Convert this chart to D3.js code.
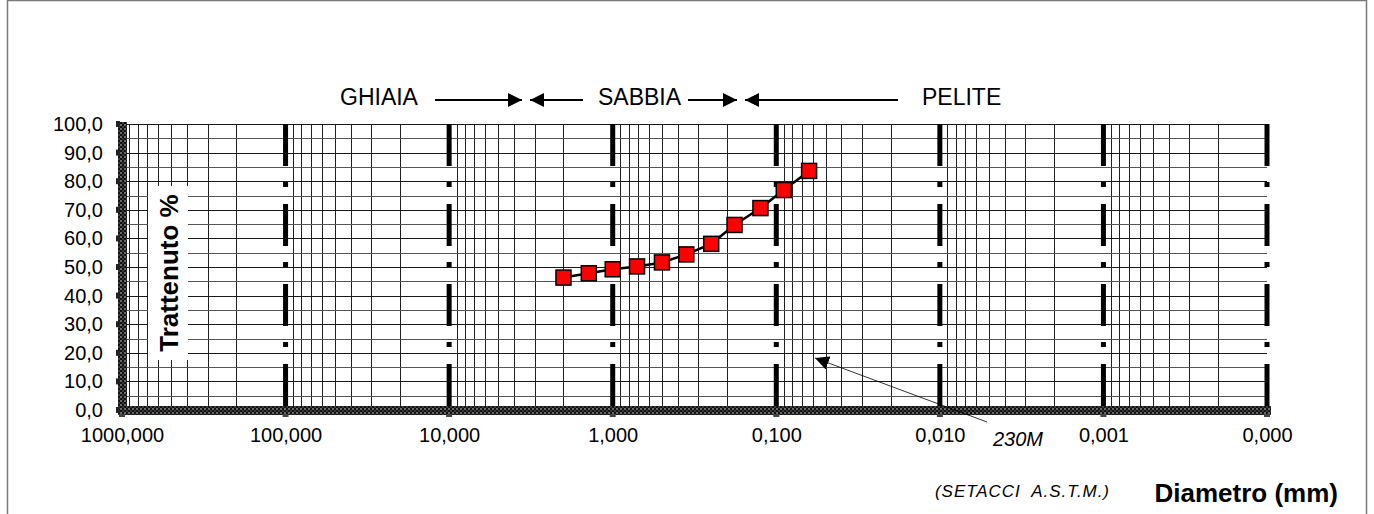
<!DOCTYPE html>
<html>
<head>
<meta charset="utf-8">
<script src="https://cdn.jsdelivr.net/npm/d3@7"></script>
<style>
    body { margin: 0; background: #fff; }
    svg { display: block; font-family: "Liberation Sans", Arial, sans-serif; }
</style>
</head>
<body>
<svg id="chart" width="1374" height="514"></svg>
<script>
// Sieve openings (mm) - ASTM series
const diameters = [2.0, 1.4, 1.0, 0.71, 0.5, 0.355, 0.25, 0.18, 0.125, 0.09, 0.063];
// Retained %
const retained = [46.3, 47.8, 49.2, 50.2, 51.6, 54.4, 58.1, 64.7, 70.6, 76.9, 83.6];

// Axis ticks
const xDecades = [1000, 100, 10, 1, 0.1, 0.01, 0.001, 0.0001];
const xTickLabels = ['1000,000', '100,000', '10,000', '1,000', '0,100', '0,010', '0,001', '0,000'];
const yTicks = [0, 10, 20, 30, 40, 50, 60, 70, 80, 90, 100];
const yTickLabels = ['0,0', '10,0', '20,0', '30,0', '40,0', '50,0', '60,0', '70,0', '80,0', '90,0', '100,0'];
const yGrid = d3.range(0, 101, 5);

const svg = d3.select('#chart');

// Scales
const x = d3.scaleLog().domain([1000, 0.0001]).range([122, 1267]);
const y = d3.scaleLinear().domain([0, 100]).range([410, 124]);

// Outer frame
svg.append('rect')
    .attr('x', 7.5).attr('y', 0.5)
    .attr('width', 1359).attr('height', 600)
    .attr('fill', 'none')
    .attr('stroke', '#7a7a7a')
    .attr('stroke-width', 1.5);

// Checkered pattern for the axes
const defs = svg.append('defs');
const pat = defs.append('pattern')
    .attr('id', 'checker')
    .attr('width', 4).attr('height', 4)
    .attr('patternUnits', 'userSpaceOnUse');
pat.append('rect').attr('width', 4).attr('height', 4).attr('fill', '#111');
pat.append('rect').attr('x', 0).attr('y', 0).attr('width', 2).attr('height', 2).attr('fill', '#6a6a6a');
pat.append('rect').attr('x', 2).attr('y', 2).attr('width', 2).attr('height', 2).attr('fill', '#3a3a3a');

// Minor vertical grid (log)
const minorTicks = [];
xDecades.slice(0, -1).forEach(d => {
    for (let k = 2; k <= 9; k++) minorTicks.push(d * k / 10);
});

const grid = svg.append('g').attr('shape-rendering', 'crispEdges');

grid.selectAll('.vgrid')
    .data(minorTicks)
    .enter()
    .append('line')
    .attr('x1', d => Math.round(x(d)) + 0.5)
    .attr('x2', d => Math.round(x(d)) + 0.5)
    .attr('y1', y(100))
    .attr('y2', y(0))
    .attr('stroke', '#202020')
    .attr('stroke-width', 1);

// Horizontal grid every 5 %
grid.selectAll('.hgrid')
    .data(yGrid)
    .enter()
    .append('line')
    .attr('x1', x(1000))
    .attr('x2', x(0.0001))
    .attr('y1', d => Math.round(y(d)) + 0.5)
    .attr('y2', d => Math.round(y(d)) + 0.5)
    .attr('stroke', d => d % 10 === 0 ? '#1a1a1a' : '#555')
    .attr('stroke-width', 1);

// Decade lines (dash-dot, thick)
svg.append('g')
    .selectAll('line')
    .data(xDecades.slice(1))
    .enter()
    .append('line')
    .attr('x1', d => x(d))
    .attr('x2', d => x(d))
    .attr('y1', y(100))
    .attr('y2', y(0))
    .attr('stroke', '#000')
    .attr('stroke-width', 5)
    .attr('stroke-dasharray', '42,16,5,17');

// Axes bands
svg.append('rect')
    .attr('x', x(1000) - 4).attr('y', y(0) - 4)
    .attr('width', x(0.0001) - x(1000) + 8).attr('height', 9)
    .attr('fill', 'url(#checker)');
svg.append('rect')
    .attr('x', x(1000) - 4).attr('y', y(100) - 2)
    .attr('width', 9).attr('height', y(0) - y(100) + 6)
    .attr('fill', 'url(#checker)');

// small tick bumps on the axes
svg.append('g')
    .selectAll('rect')
    .data(yTicks)
    .enter()
    .append('rect')
    .attr('x', x(1000) - 6)
    .attr('y', d => y(d) - 3)
    .attr('width', 4)
    .attr('height', 6)
    .attr('fill', '#222');
svg.append('g')
    .selectAll('rect')
    .data(xDecades)
    .enter()
    .append('rect')
    .attr('x', d => x(d) - 3)
    .attr('y', y(0) + 4)
    .attr('width', 6)
    .attr('height', 3)
    .attr('fill', '#444');

// Y axis labels
const yAxis = svg.append('g')
    .attr('transform', `translate(${x(1000)},0)`)
    .call(d3.axisLeft(y)
        .tickValues(yTicks)
        .tickFormat((d, i) => yTickLabels[i])
        .tickSize(0)
        .tickPadding(19));
yAxis.select('.domain').remove();
yAxis.selectAll('text')
    .attr('font-family', '"Liberation Sans", Arial, sans-serif')
    .attr('font-size', 20)
    .attr('fill', '#000');

// X axis labels
const xAxis = svg.append('g')
    .attr('transform', `translate(0,${y(0)})`)
    .call(d3.axisBottom(x)
        .tickValues(xDecades)
        .tickFormat((d, i) => xTickLabels[i])
        .tickSize(0));
xAxis.select('.domain').remove();
xAxis.selectAll('text')
    .attr('y', 32)
    .attr('dy', 0)
    .attr('font-family', '"Liberation Sans", Arial, sans-serif')
    .attr('font-size', 20)
    .attr('fill', '#000');

// Y axis title with white box
svg.append('rect')
    .attr('x', 148).attr('y', 186)
    .attr('width', 40).attr('height', 174)
    .attr('fill', '#fff');
svg.append('text')
    .attr('transform', 'translate(178,273) rotate(-90)')
    .attr('text-anchor', 'middle')
    .attr('font-weight', 'bold')
    .attr('font-size', 26)
    .text('Trattenuto %');

// Data line + markers
const pts = diameters.map((d, i) => [x(d), y(retained[i])]);
svg.append('path')
    .attr('d', d3.line()(pts))
    .attr('fill', 'none')
    .attr('stroke', '#000')
    .attr('stroke-width', 2.5);

const mk = 15;
svg.append('g')
    .selectAll('rect')
    .data(pts)
    .enter()
    .append('rect')
    .attr('x', d => d[0] - mk / 2)
    .attr('y', d => d[1] - mk / 2)
    .attr('width', mk)
    .attr('height', mk)
    .attr('fill', '#ff0000')
    .attr('stroke', '#000')
    .attr('stroke-width', 1.5);

// Arrow marker
defs.append('marker')
    .attr('id', 'head')
    .attr('viewBox', '0 0 10 10')
    .attr('refX', 10).attr('refY', 5)
    .attr('markerWidth', 14).attr('markerHeight', 14)
    .attr('markerUnits', 'userSpaceOnUse')
    .attr('orient', 'auto')
    .append('path')
    .attr('d', 'M0,0 L10,5 L0,10 Z')
    .attr('fill', '#000');

// Top labels: GHIAIA / SABBIA / PELITE
const zoneLabels = svg.append('g').attr('font-size', 23).attr('fill', '#000');
zoneLabels.append('text').attr('x', 340).attr('y', 105).text('GHIAIA');
zoneLabels.append('text').attr('x', 598).attr('y', 105).text('SABBIA');
zoneLabels.append('text').attr('x', 922).attr('y', 105).text('PELITE');

const arrows = [
    [435, 522], [583, 530], [688, 737], [898, 745]
];
svg.append('g')
    .selectAll('line')
    .data(arrows)
    .enter()
    .append('line')
    .attr('x1', d => d[0]).attr('x2', d => d[1])
    .attr('y1', 100).attr('y2', 100)
    .attr('stroke', '#000')
    .attr('stroke-width', 2)
    .attr('marker-end', 'url(#head)');

// 230M pointer
svg.append('line')
    .attr('x1', 987).attr('y1', 422)
    .attr('x2', 815).attr('y2', 358)
    .attr('stroke', '#000')
    .attr('stroke-width', 0.8)
    .attr('marker-end', 'url(#head)');
svg.append('text')
    .attr('x', 993).attr('y', 446)
    .attr('font-size', 20)
    .attr('font-style', 'italic')
    .text('230M');

// Bottom captions
svg.append('text')
    .attr('x', 935).attr('y', 497)
    .attr('font-size', 17)
    .attr('font-style', 'italic')
    .attr('textLength', 174)
    .attr('lengthAdjust', 'spacing')
    .attr('xml:space', 'preserve')
    .text('(SETACCI  A.S.T.M.)');
svg.append('text')
    .attr('x', 1338).attr('y', 502)
    .attr('text-anchor', 'end')
    .attr('font-size', 26)
    .attr('font-weight', 'bold')
    .text('Diametro (mm)');
</script>
</body>
</html>
